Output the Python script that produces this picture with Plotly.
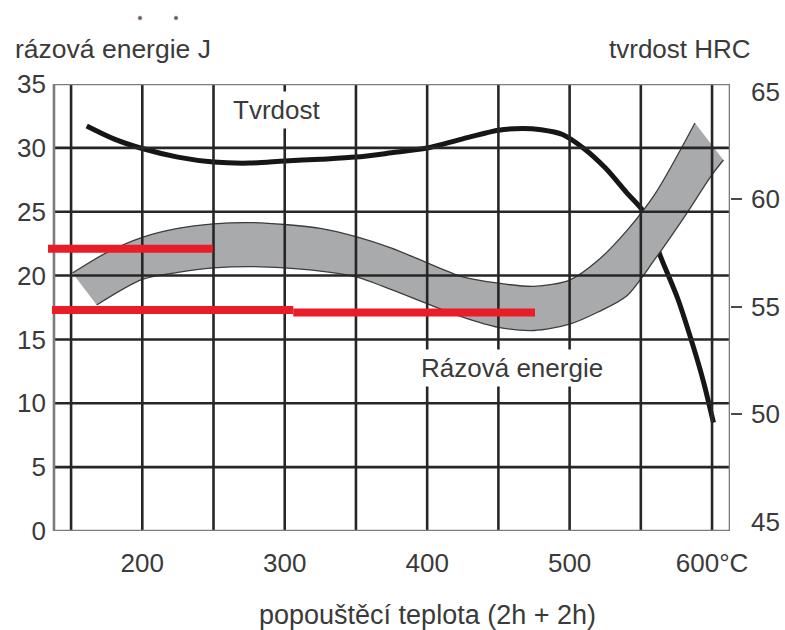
import plotly.graph_objects as go

# --- axes -------------------------------------------------------------
temp_ticks = [200, 300, 400, 500, 600]
temp_ticktext = ["200", "300", "400", "500", "600°C"]
temp_grid = [150, 200, 250, 300, 350, 400, 450, 500, 550, 600]
temp_frame = [138, 612.6]

energy_ticks = [0, 5, 10, 15, 20, 25, 30, 35]
energy_grid = [5, 10, 15, 20, 25, 30]
energy_frame = [0, 35]

hrc_ticks = [45, 50, 55, 60, 65]
hrc_marked = [50, 55, 60]

# --- hardness HRC vs. tempering temperature --------------------------
hard_t = [161, 180, 200, 225, 250, 275, 300, 325, 350, 375, 400, 425, 450,
          467, 480, 495, 510, 525, 540, 552, 564, 576, 587, 594, 601]
hard_hrc = [63.4, 62.8, 62.35, 61.95, 61.72, 61.67, 61.77, 61.85, 61.95, 62.15, 62.37, 62.8, 63.2,
            63.28, 63.22, 63.0, 62.35, 61.45, 60.3, 59.4, 57.3, 55.35, 53.1, 51.5, 49.6]

# --- impact energy scatter band (J) ----------------------------------
band_hi_t = [151, 175, 200, 225, 250, 275, 300, 325, 350, 375, 400, 425, 450,
             475, 500, 520, 540, 560, 588]
band_hi_j = [20.2, 21.8, 23.0, 23.7, 24.05, 24.15, 24.0, 23.7, 23.05, 22.15, 21.0, 19.9, 19.4,
             19.15, 19.65, 21.2, 23.5, 26.4, 31.95]
band_lo_t = [168, 200, 225, 250, 275, 300, 325, 350, 375, 400, 425, 450, 475,
             500, 520, 540, 560, 580, 600, 608]
band_lo_j = [17.7, 19.7, 20.25, 20.6, 20.7, 20.6, 20.35, 19.9, 18.9, 17.8, 16.75, 15.95, 15.7,
             16.2, 17.15, 18.4, 21.3, 24.5, 27.9, 29.05]

# --- red reference levels (J): start °C, end °C, level ----------------
mark_start = [133.8, 136.6, 306]
mark_end = [249.6, 306, 475.7]
mark_level = [22.1, 17.3, 17.1]

W, H = 785, 630
ML, MR, MT, MB = 47, 55, 84, 99
PW, PH = W - ML - MR, H - MT - MB


def px(x):
    return (x - ML) / PW


def py(y):
    return (H - MB - y) / PH


FONT = "Liberation Sans, Arial, Helvetica, sans-serif"
TXT = "#3a3a3a"
GRID = "#262626"

fig = go.Figure()

# hardness curve (right axis), drawn beneath the band
fig.add_trace(go.Scatter(
    x=hard_t, y=hard_hrc, yaxis="y2", mode="lines",
    line=dict(color="#161616", width=5, shape="spline", smoothing=0.8),
    hoverinfo="skip", showlegend=False))

# impact energy band
fig.add_trace(go.Scatter(
    x=band_hi_t, y=band_hi_j, yaxis="y3", mode="lines",
    line=dict(color="#3c3c3c", width=1.3, shape="spline", smoothing=0.8),
    hoverinfo="skip", showlegend=False))
fig.add_trace(go.Scatter(
    x=band_lo_t, y=band_lo_j, yaxis="y3", mode="lines",
    line=dict(color="#3c3c3c", width=1.3, shape="spline", smoothing=0.8),
    fill="tonexty", fillcolor="#a9aaac",
    hoverinfo="skip", showlegend=False))

shapes = []
# grid
for t in temp_grid:
    shapes.append(dict(type="line", xref="x", yref="y", layer="above",
                       x0=t, x1=t, y0=energy_frame[0], y1=energy_frame[1],
                       line=dict(color=GRID, width=2.6)))
for e in energy_grid:
    shapes.append(dict(type="line", xref="x", yref="y", layer="above",
                       x0=temp_frame[0], x1=temp_frame[1], y0=e, y1=e,
                       line=dict(color=GRID, width=2.6)))
# frame
shapes.append(dict(type="rect", xref="x", yref="y", layer="above",
                   x0=temp_frame[0], x1=temp_frame[1],
                   y0=energy_frame[0], y1=energy_frame[1],
                   line=dict(color="#7c7c7c", width=2.6)))
# red reference levels
for s, e, lv in zip(mark_start, mark_end, mark_level):
    shapes.append(dict(type="line", xref="x", yref="y", layer="above",
                       x0=s, x1=e, y0=lv, y1=lv,
                       line=dict(color="#e81d27", width=8)))
# two small dots above the left title
for cx in (140, 176):
    shapes.append(dict(type="circle", xref="paper", yref="paper",
                       x0=px(cx - 2), x1=px(cx + 2), y0=py(20), y1=py(16),
                       fillcolor="#4d5f92", line=dict(color="#d99a5a", width=0.6)))

annotations = [
    dict(text="rázová energie J", xref="paper", yref="paper", x=px(13), y=py(49),
         xanchor="left", yanchor="middle", showarrow=False,
         font=dict(family=FONT, size=26.5, color=TXT)),
    dict(text="tvrdost HRC", xref="paper", yref="paper", x=px(680), y=py(49),
         xanchor="center", yanchor="middle", showarrow=False,
         font=dict(family=FONT, size=26, color=TXT)),
    dict(text="popouštěcí teplota (2h + 2h)", xref="paper", yref="paper",
         x=px(427), y=py(615), xanchor="center", yanchor="middle", showarrow=False,
         font=dict(family=FONT, size=27, color=TXT)),
    dict(text="Tvrdost", xref="x", yref="y", x=294, y=33.0,
         xanchor="center", yanchor="middle", showarrow=False,
         bgcolor="white", borderpad=3,
         font=dict(family=FONT, size=26, color=TXT)),
    dict(text="Rázová energie", xref="x", yref="y", x=459.5, y=12.75,
         xanchor="center", yanchor="middle", showarrow=False,
         bgcolor="white", borderpad=3,
         font=dict(family=FONT, size=26, color=TXT)),
]

fig.update_layout(
    width=W, height=H,
    margin=dict(l=ML, r=MR, t=MT, b=MB, pad=0, autoexpand=False),
    paper_bgcolor="white", plot_bgcolor="white",
    font=dict(family=FONT, size=26, color=TXT),
    showlegend=False,
    xaxis=dict(range=[133.1, 612.6], tickmode="array", tickvals=temp_ticks,
               ticktext=temp_ticktext, ticks="", showgrid=False, zeroline=False,
               showline=False, ticklabelstandoff=14, automargin=False,
               tickfont=dict(family=FONT, size=26, color=TXT)),
    yaxis=dict(range=energy_frame, tickmode="array", tickvals=energy_ticks,
               ticks="", showgrid=False, zeroline=False, showline=False,
               ticklabelstandoff=0, automargin=False,
               tickfont=dict(family=FONT, size=26, color=TXT)),
    yaxis2=dict(range=[44.56, 65.35], overlaying="y", side="right", anchor="x",
                tickmode="array", tickvals=hrc_ticks, ticks="",
                showgrid=False, zeroline=False, showline=False,
                ticklabelstandoff=20, automargin=False,
                minor=dict(tickmode="array", tickvals=hrc_marked, ticks="outside",
                           ticklen=11, tickwidth=2, tickcolor="#4a4a4a", showgrid=False),
                tickfont=dict(family=FONT, size=26, color=TXT)),
    yaxis3=dict(range=energy_frame, overlaying="y", visible=False, automargin=False),
    shapes=shapes,
    annotations=annotations,
)

fig.write_html("out.html")
